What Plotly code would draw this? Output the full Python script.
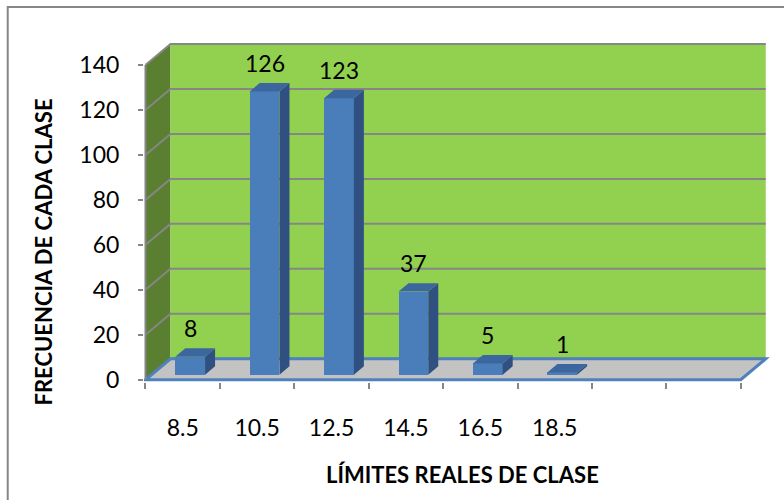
import plotly.graph_objects as go

# Class boundaries and their frequencies
categories = ["8.5", "10.5", "12.5", "14.5", "16.5", "18.5"]
frequencies = [8, 126, 123, 37, 5, 1]
empty_slots = 2  # unused class slots at the right of the floor
y_ticks = [0, 20, 40, 60, 80, 100, 120, 140]

# Oblique 3D look: depth offsets expressed in axis units
DX = 0.336      # depth shift along x (category units)
DY = 9.33       # depth shift along y (value units)
D0, D1 = 0.24, 0.64   # front / back depth fraction of the columns
BAR_L, BAR_W = 0.32, 0.40

n_slots = len(categories) + empty_slots
y_top = y_ticks[-1]

WALL = "#92D050"
SIDE_WALL = "#5B7F30"
FLOOR = "#C3C3C3"
GRID = "#868686"
FRONT = "#4A7EBB"
TOP = "#3C679E"
SIDE = "#2F5080"
FONT = "Lato, Carlito, 'Liberation Sans', sans-serif"
TICK_SIZE = 23
LABEL_SIZE = 23
TITLE_SIZE = 22


def poly(points):
    return "M " + " L ".join(f"{x},{y}" for x, y in points) + " Z"


shapes = []
# left side wall
shapes.append(dict(type="path", xref="x", yref="y", layer="below",
                   path=poly([(0, 0), (0, y_top), (DX, y_top + DY), (DX, DY)]),
                   fillcolor=SIDE_WALL, line=dict(width=0)))
# back wall
shapes.append(dict(type="path", xref="x", yref="y", layer="below",
                   path=poly([(DX, DY), (DX, y_top + DY), (n_slots + DX, y_top + DY), (n_slots + DX, DY)]),
                   fillcolor=WALL, line=dict(width=0)))
# gridlines running over the side wall and along the back wall
for v in y_ticks:
    shapes.append(dict(type="path", xref="x", yref="y", layer="below",
                       path=f"M 0,{v} L {DX},{v + DY} L {n_slots + DX},{v + DY}",
                       line=dict(color=GRID, width=2)))
# floor
shapes.append(dict(type="path", xref="x", yref="y", layer="below",
                   path=poly([(0, 0), (n_slots, 0), (n_slots + DX, DY), (DX, DY)]),
                   fillcolor=FLOOR, line=dict(color="#4F81BD", width=3)))
# outer chart border
shapes.append(dict(type="rect", xref="paper", yref="paper",
                   x0=-0.217, x1=1.2, y0=-0.6, y1=1.09,
                   line=dict(color=GRID, width=2), fillcolor="rgba(0,0,0,0)"))

fig = go.Figure()

# front faces of the columns
front_x = [i + BAR_L + BAR_W / 2 + D0 * DX for i in range(len(frequencies))]
fig.add_trace(go.Bar(x=front_x, y=frequencies, base=D0 * DY, width=BAR_W,
                     marker=dict(color=FRONT, line=dict(width=0)),
                     hoverinfo="skip", showlegend=False))

bdx = (D1 - D0) * DX
bdy = (D1 - D0) * DY
for i, v in enumerate(frequencies):
    xl = i + BAR_L + D0 * DX
    xr = xl + BAR_W
    b = D0 * DY
    t = v + D0 * DY
    # right side face
    fig.add_trace(go.Scatter(x=[xr, xr, xr + bdx, xr + bdx, xr], y=[b, t, t + bdy, b + bdy, b],
                             fill="toself", fillcolor=SIDE, mode="lines", line=dict(width=0),
                             hoverinfo="skip", showlegend=False))
    # top face
    fig.add_trace(go.Scatter(x=[xl, xr, xr + bdx, xl + bdx, xl], y=[t, t, t + bdy, t + bdy, t],
                             fill="toself", fillcolor=TOP, mode="lines", line=dict(width=0),
                             hoverinfo="skip", showlegend=False))

# vertical axis line on the front edge of the side wall
fig.add_trace(go.Scatter(x=[0, 0], y=[0, y_top], mode="lines",
                         line=dict(color=GRID, width=2), hoverinfo="skip", showlegend=False))

annotations = []
for i, v in enumerate(frequencies):
    annotations.append(dict(x=front_x[i], y=v + D1 * DY, xref="x", yref="y",
                            text=str(v), showarrow=False, yshift=20, yanchor="middle",
                            font=dict(family=FONT, size=LABEL_SIZE, color="black")))
annotations.append(dict(x=0.5065, y=-0.269, xref="paper", yref="paper",
                        text="<b>LÍMITES REALES DE CLASE</b>", showarrow=False,
                        xanchor="center", yanchor="middle",
                        font=dict(family=FONT, size=TITLE_SIZE, color="black")))
annotations.append(dict(x=-0.16, y=0.378, xref="paper", yref="paper",
                        text="<b>FRECUENCIA DE CADA CLASE</b>", showarrow=False, textangle=-90,
                        xanchor="center", yanchor="middle",
                        font=dict(family=FONT, size=TITLE_SIZE, color="black")))

fig.update_layout(
    width=784, height=500, autosize=False,
    margin=dict(l=143.5, r=11.7, t=38, b=117.75, pad=0),
    paper_bgcolor="white", plot_bgcolor="white",
    shapes=shapes, annotations=annotations,
    bargap=0, showlegend=False,
    font=dict(family=FONT, size=TICK_SIZE, color="black"),
    xaxis=dict(range=[-0.02, n_slots + 0.42], showgrid=False, zeroline=False, showline=False,
               tickvals=[i + 0.5 for i in range(len(categories))], ticktext=categories,
               ticks="", ticklabelstandoff=30, tickfont=dict(family=FONT, size=TICK_SIZE),
               minor=dict(tickvals=list(range(n_slots + 1)), ticks="outside", ticklen=6,
                          tickwidth=2, tickcolor=GRID, showgrid=False),
               fixedrange=True),
    yaxis=dict(range=[-1, 152], showgrid=False, zeroline=False, showline=False,
               tickvals=y_ticks, ticks="outside", ticklen=5, tickwidth=2, tickcolor=GRID,
               ticklabelstandoff=14, tickfont=dict(family=FONT, size=TICK_SIZE),
               fixedrange=True),
)

fig.write_html("out.html")
